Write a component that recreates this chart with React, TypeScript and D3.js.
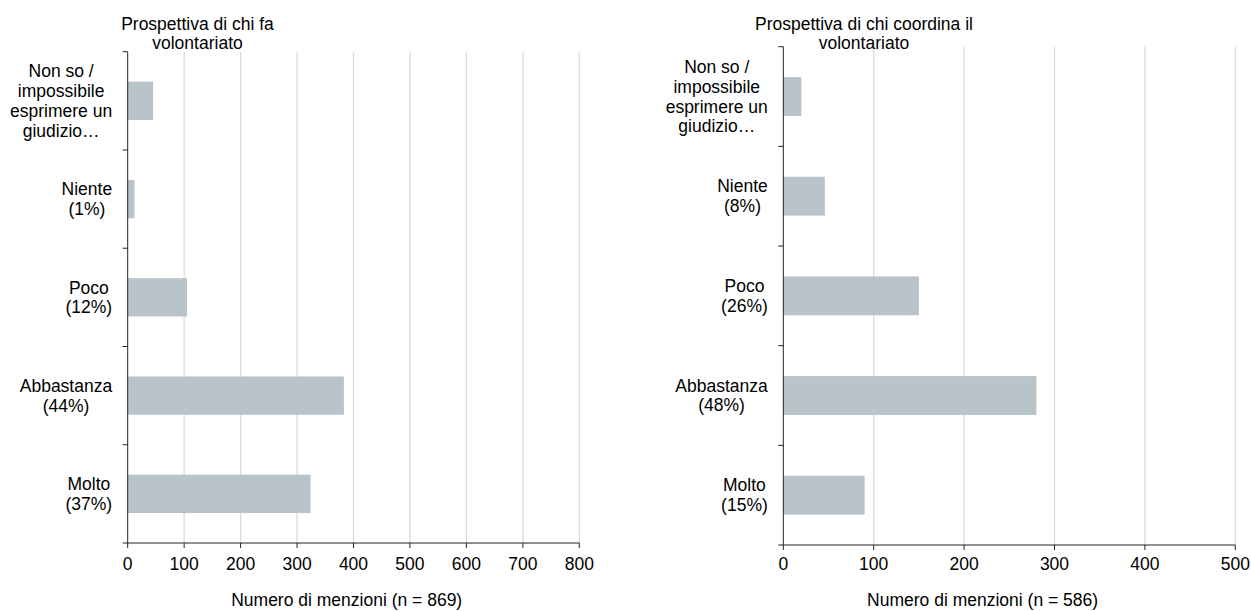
import React, { useRef, useEffect } from 'react';
import * as d3 from 'd3';

// Data
const categories = ['nonso', 'niente', 'poco', 'abbastanza', 'molto'];

const volLabels = [
  ['Non so /', 'impossibile', 'esprimere un', 'giudizio…'],
  ['Niente', '(1%)'],
  ['Poco', '(12%)'],
  ['Abbastanza', '(44%)'],
  ['Molto', '(37%)'],
];
const volValues = [45, 12, 105, 383, 324];
const volTicks = [0, 100, 200, 300, 400, 500, 600, 700, 800];
const volTitle = ['Prospettiva di chi fa', 'volontariato'];
const volAxisTitle = 'Numero di menzioni (n = 869)';

const coordLabels = [
  ['Non so /', 'impossibile', 'esprimere un', 'giudizio…'],
  ['Niente', '(8%)'],
  ['Poco', '(26%)'],
  ['Abbastanza', '(48%)'],
  ['Molto', '(15%)'],
];
const coordValues = [20, 46, 150, 280, 90];
const coordTicks = [0, 100, 200, 300, 400, 500];
const coordTitle = ['Prospettiva di chi coordina il', 'volontariato'];
const coordAxisTitle = 'Numero di menzioni (n = 586)';

const FONT = '"Liberation Sans", Arial, sans-serif';
const FS = 17.5;
const LINE_H = 19.7;
const BAR = '#b8c4c9';
const GRID = '#dcdcdc';
const AXIS = '#222';

interface Panel {
  labels: string[][];
  values: number[];
  ticks: number[];
  title: string[];
  titleX: number;
  axisTitle: string;
  axisTitleX: number;
  x0: number;
  x1: number;
  y0: number;
  y1: number;
}

const panels: Panel[] = [
  { labels: volLabels, values: volValues, ticks: volTicks, title: volTitle, titleX: 197.5, axisTitle: volAxisTitle, axisTitleX: 346.7, x0: 127.7, x1: 579.3, y0: 51.7, y1: 543 },
  { labels: coordLabels, values: coordValues, ticks: coordTicks, title: coordTitle, titleX: 864, axisTitle: coordAxisTitle, axisTitleX: 982.6, x0: 783.3, x1: 1235.3, y0: 46.7, y1: 545 },
];

const App: React.FC = () => {
  const svgRef = useRef<SVGSVGElement>(null);

  useEffect(() => {
    if (!svgRef.current) return;
    const svg = d3.select(svgRef.current);
    svg.selectAll('*').remove();

    panels.forEach((p) => {
      const g = svg.append('g');
      const x = d3.scaleLinear().domain([0, p.ticks[p.ticks.length - 1]]).range([p.x0, p.x1]);
      const y = d3.scaleBand<string>().domain(categories).range([p.y0, p.y1]).padding(0);
      const barH = y.bandwidth() * 0.39;

      // gridlines
      g.selectAll('.grid')
        .data(p.ticks.slice(1))
        .enter()
        .append('line')
        .attr('x1', (d) => x(d))
        .attr('x2', (d) => x(d))
        .attr('y1', p.y0)
        .attr('y2', p.y1)
        .style('stroke', GRID)
        .style('stroke-width', 1.3);

      // bars
      g.selectAll('.bar')
        .data(p.values)
        .enter()
        .append('rect')
        .attr('x', x(0))
        .attr('y', (d, i) => (y(categories[i]) as number) + (y.bandwidth() - barH) / 2)
        .attr('width', (d) => x(d) - x(0))
        .attr('height', barH)
        .style('fill', BAR);

      // y axis
      g.append('line')
        .attr('x1', x(0)).attr('x2', x(0))
        .attr('y1', p.y0).attr('y2', p.y1)
        .style('stroke', AXIS).style('stroke-width', 1);
      const bounds = categories.map((c) => y(c) as number).concat([p.y1]);
      g.selectAll('.ytick')
        .data(bounds)
        .enter()
        .append('line')
        .attr('x1', x(0) - 5).attr('x2', x(0))
        .attr('y1', (d) => d).attr('y2', (d) => d)
        .style('stroke', AXIS).style('stroke-width', 1);

      // x axis
      g.append('line')
        .attr('x1', x(0)).attr('x2', p.x1)
        .attr('y1', p.y1).attr('y2', p.y1)
        .style('stroke', AXIS).style('stroke-width', 1);
      g.selectAll('.xtick')
        .data(p.ticks)
        .enter()
        .append('line')
        .attr('x1', (d) => x(d)).attr('x2', (d) => x(d))
        .attr('y1', p.y1).attr('y2', p.y1 + 5)
        .style('stroke', AXIS).style('stroke-width', 1);
      g.selectAll('.xlabel')
        .data(p.ticks)
        .enter()
        .append('text')
        .attr('x', (d) => x(d))
        .attr('y', 569.5)
        .attr('text-anchor', 'middle')
        .style('font-family', FONT)
        .style('font-size', `${FS}px`)
        .style('fill', '#000')
        .text((d) => d3.format('d')(d));

      // axis title
      g.append('text')
        .attr('x', p.axisTitleX)
        .attr('y', 605.5)
        .attr('text-anchor', 'middle')
        .style('font-family', FONT)
        .style('font-size', `${FS}px`)
        .style('fill', '#000')
        .text(p.axisTitle);

      // panel title
      p.title.forEach((line, i) => {
        g.append('text')
          .attr('x', p.titleX)
          .attr('y', 30 + i * 18.5)
          .attr('text-anchor', 'middle')
          .style('font-family', FONT)
          .style('font-size', `${FS}px`)
          .style('fill', '#000')
          .text(line);
      });

      // category labels: block right-aligned, lines centred in block
      const right = x(0) - 15.5;
      p.labels.forEach((lines, i) => {
        const cy = (y(categories[i]) as number) + y.bandwidth() / 2;
        const texts = lines.map((line, j) =>
          g.append('text')
            .attr('y', cy + (j - (lines.length - 1) / 2) * LINE_H)
            .attr('dy', '0.35em')
            .attr('text-anchor', 'middle')
            .style('font-family', FONT)
            .style('font-size', `${FS}px`)
            .style('fill', '#000')
            .text(line)
        );
        const widths = texts.map((t) => (t.node() as SVGTextElement).getComputedTextLength());
        const maxW = d3.max(widths) || 0;
        texts.forEach((t) => t.attr('x', right - maxW / 2));
      });
    });
  }, []);

  return (
    <svg
      ref={svgRef}
      width={1251}
      height={611}
      style={{ position: 'absolute', left: 0, top: 0, background: '#fff', display: 'block' }}
    />
  );
};

export default App;
